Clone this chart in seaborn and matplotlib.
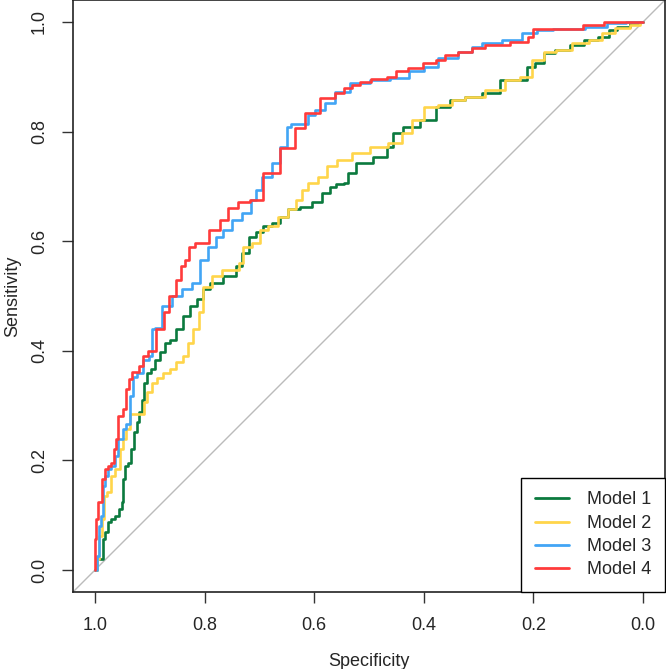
import pandas as pd
import matplotlib
matplotlib.use('Agg')
import matplotlib.pyplot as plt
import seaborn as sns

# ---- ROC points (specificity, sensitivity) ----
spec_m1 = [1.0, 0.998, 0.994, 0.987, 0.985, 0.978, 0.976, 0.967, 0.96, 0.951, 0.949, 0.947,
           0.942, 0.936, 0.932, 0.927, 0.921, 0.918, 0.912, 0.909, 0.9, 0.894, 0.887, 0.876,
           0.869, 0.858, 0.845, 0.832, 0.821, 0.808, 0.796, 0.785, 0.748, 0.739, 0.723, 0.714,
           0.699, 0.686, 0.668, 0.657, 0.639, 0.613, 0.595, 0.577, 0.566, 0.553, 0.54, 0.535,
           0.511, 0.474, 0.462, 0.45, 0.425, 0.389, 0.365, 0.34, 0.31, 0.279, 0.243, 0.219,
           0.206, 0.188, 0.175, 0.146, 0.12, 0.097, 0.066, 0.06, 0.036, 0.011, 0.0]
sens_m1 = [0.0, 0.0, 0.02, 0.02, 0.056, 0.069, 0.087, 0.093, 0.098, 0.111, 0.124, 0.166,
           0.19, 0.196, 0.22, 0.251, 0.27, 0.288, 0.311, 0.342, 0.36, 0.366, 0.384, 0.397,
           0.415, 0.42, 0.439, 0.463, 0.481, 0.494, 0.512, 0.524, 0.536, 0.554, 0.579, 0.608,
           0.616, 0.627, 0.634, 0.645, 0.658, 0.663, 0.672, 0.688, 0.699, 0.704, 0.707, 0.725,
           0.743, 0.754, 0.772, 0.798, 0.809, 0.821, 0.845, 0.858, 0.863, 0.87, 0.894, 0.894,
           0.918, 0.925, 0.943, 0.949, 0.958, 0.967, 0.973, 0.985, 0.991, 0.998, 1.0]

spec_m2 = [1.0, 0.997, 0.994, 0.991, 0.985, 0.982, 0.973, 0.967, 0.958, 0.951, 0.945, 0.94,
           0.932, 0.912, 0.909, 0.9, 0.891, 0.881, 0.869, 0.858, 0.845, 0.832, 0.827, 0.814,
           0.808, 0.796, 0.777, 0.759, 0.741, 0.735, 0.723, 0.705, 0.693, 0.675, 0.657, 0.639,
           0.626, 0.62, 0.602, 0.584, 0.571, 0.547, 0.516, 0.48, 0.45, 0.431, 0.412, 0.389,
           0.358, 0.34, 0.31, 0.266, 0.237, 0.212, 0.193, 0.17, 0.146, 0.115, 0.084, 0.066,
           0.036, 0.011, 0.0]
sens_m2 = [0.0, 0.0, 0.02, 0.062, 0.093, 0.135, 0.142, 0.171, 0.184, 0.22, 0.239, 0.257,
           0.284, 0.284, 0.306, 0.324, 0.342, 0.351, 0.36, 0.366, 0.379, 0.39, 0.415, 0.439,
           0.47, 0.517, 0.536, 0.548, 0.548, 0.561, 0.59, 0.597, 0.621, 0.627, 0.645, 0.658,
           0.676, 0.694, 0.707, 0.718, 0.738, 0.749, 0.761, 0.772, 0.78, 0.798, 0.821, 0.845,
           0.849, 0.858, 0.863, 0.876, 0.894, 0.9, 0.931, 0.945, 0.949, 0.962, 0.967, 0.98,
           0.989, 0.995, 1.0]

spec_m3 = [1.0, 0.994, 0.991, 0.987, 0.985, 0.978, 0.973, 0.967, 0.96, 0.954, 0.945, 0.94,
           0.932, 0.93, 0.918, 0.905, 0.896, 0.894, 0.887, 0.869, 0.85, 0.832, 0.814, 0.803,
           0.785, 0.772, 0.759, 0.741, 0.723, 0.708, 0.705, 0.686, 0.668, 0.657, 0.644, 0.64,
           0.613, 0.608, 0.59, 0.571, 0.553, 0.516, 0.48, 0.443, 0.412, 0.389, 0.358, 0.316,
           0.31, 0.279, 0.237, 0.206, 0.182, 0.146, 0.066, 0.064, 0.0]
sens_m3 = [0.0, 0.025, 0.08, 0.098, 0.153, 0.171, 0.184, 0.19, 0.208, 0.239, 0.257, 0.266,
           0.317, 0.353, 0.36, 0.384, 0.39, 0.44, 0.442, 0.481, 0.5, 0.512, 0.524, 0.566,
           0.59, 0.608, 0.621, 0.639, 0.652, 0.676, 0.694, 0.718, 0.743, 0.772, 0.809, 0.814,
           0.814, 0.83, 0.84, 0.852, 0.872, 0.889, 0.894, 0.898, 0.911, 0.918, 0.934, 0.945,
           0.954, 0.962, 0.967, 0.98, 0.985, 0.987, 0.991, 0.998, 1.0]

spec_m4 = [1.0, 1.0, 0.996, 0.991, 0.985, 0.98, 0.973, 0.967, 0.964, 0.96, 0.954, 0.945,
           0.94, 0.936, 0.927, 0.914, 0.912, 0.896, 0.88, 0.869, 0.86, 0.845, 0.84, 0.83,
           0.827, 0.808, 0.777, 0.766, 0.748, 0.73, 0.705, 0.681, 0.644, 0.626, 0.608, 0.571,
           0.553, 0.54, 0.522, 0.511, 0.48, 0.456, 0.447, 0.412, 0.392, 0.365, 0.358, 0.316,
           0.31, 0.266, 0.219, 0.2, 0.2, 0.146, 0.073, 0.069, 0.0]
sens_m4 = [0.0, 0.056, 0.093, 0.124, 0.166, 0.184, 0.19, 0.196, 0.22, 0.239, 0.281, 0.293,
           0.33, 0.348, 0.362, 0.372, 0.39, 0.40, 0.44, 0.47, 0.5, 0.53, 0.554, 0.566,
           0.59, 0.597, 0.621, 0.639, 0.661, 0.672, 0.676, 0.725, 0.77, 0.807, 0.834, 0.862,
           0.87, 0.88, 0.885, 0.891, 0.896, 0.9, 0.911, 0.916, 0.925, 0.93, 0.94, 0.945,
           0.952, 0.958, 0.964, 0.973, 0.987, 0.987, 0.994, 1.0, 1.0]

models = ['Model 1', 'Model 2', 'Model 3', 'Model 4']
colors = ['#0B7A3E', '#FFD54A', '#42A5F5', '#FF3B3B']

frames = []
for name, sp, se in zip(models, [spec_m1, spec_m2, spec_m3, spec_m4],
                        [sens_m1, sens_m2, sens_m3, sens_m4]):
    frames.append(pd.DataFrame({'Specificity': sp, 'Sensitivity': se, 'model': name}))
df = pd.concat(frames, ignore_index=True)

sns.set_style("white")
plt.rcParams['font.family'] = ['Liberation Sans', 'DejaVu Sans']

fig = plt.figure(figsize=(6.66, 6.69), dpi=100)
ax = fig.add_axes([73 / 666, 77 / 669, 592 / 666, 592 / 669])

# chance line across the whole box
ax.plot([1.04, -0.04], [-0.04, 1.04], color='#BBBBBB', lw=1.0, zorder=1)

# staircase ROC curves
sns.lineplot(data=df, x='Specificity', y='Sensitivity', hue='model', hue_order=models,
             palette=colors, sort=False, estimator=None, drawstyle='steps-mid',
             lw=1.9, ax=ax, zorder=3)

ax.set_xlim(1.04, -0.04)
ax.set_ylim(-0.04, 1.04)
ticks = [0.0, 0.2, 0.4, 0.6, 0.8, 1.0]
ax.set_xticks(ticks)
ax.set_yticks(ticks)
ax.set_xticklabels([f'{t:.1f}' for t in ticks])
ax.set_yticklabels([f'{t:.1f}' for t in ticks], rotation=90, va='center')
ax.tick_params(axis='both', direction='out', length=8, width=1, color='#333333',
               labelsize=13, pad=10, bottom=True, left=True)
for s in ax.spines.values():
    s.set_visible(True)
    s.set_color('#222222')
    s.set_linewidth(1.2)

ax.set_xlabel('Specificity', fontsize=13, labelpad=14)
ax.set_ylabel('Sensitivity', fontsize=13, labelpad=7)

leg = ax.legend(loc='lower right', borderaxespad=0, fancybox=False, framealpha=1,
                edgecolor='black', fontsize=13, handlelength=1.9, handletextpad=1.0,
                labelspacing=0.35, borderpad=0.75)
leg.get_frame().set_linewidth(1.0)
for line in leg.get_lines():
    line.set_linewidth(2.0)

fig.savefig('out.png', dpi=100)
